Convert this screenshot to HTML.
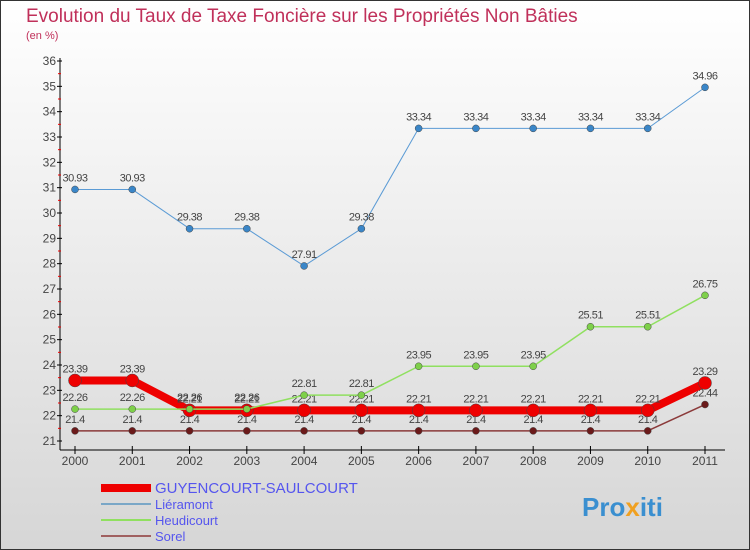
<!DOCTYPE html>
<html><head><meta charset="utf-8"><style>
body{margin:0;width:750px;height:550px;overflow:hidden}
svg{display:block;font-family:"Liberation Sans",sans-serif}
</style></head><body>
<svg id="c" width="750" height="550">
<defs><linearGradient id="bg" x1="0" y1="0" x2="0" y2="1"><stop offset="0" stop-color="#ffffff"/><stop offset="1" stop-color="#d6d6d6"/></linearGradient></defs>
<rect x="0.5" y="0.5" width="749" height="549" fill="url(#bg)" stroke="#333"/>
<text x="26" y="22" font-size="19" fill="#c0305a">Evolution du Taux de Taxe Foncière sur les Propriétés Non Bâties</text>
<text x="26" y="39" font-size="11" fill="#c0305a">(en %)</text>
<g id="axes"></g><g id="series"></g><g id="legend"></g>
<text x="582" y="516" font-size="26" font-weight="bold" fill="#3a8fd0">Pro<tspan fill="#f0a020">x</tspan>iti</text>
</svg>
<script>
const years=["2000","2001","2002","2003","2004","2005","2006","2007","2008","2009","2010","2011"];
const yTicks=[21,22,23,24,25,26,27,28,29,30,31,32,33,34,35,36];
const guyencourt=[23.39,23.39,22.21,22.21,22.21,22.21,22.21,22.21,22.21,22.21,22.21,23.29];
const lieramont=[30.93,30.93,29.38,29.38,27.91,29.38,33.34,33.34,33.34,33.34,33.34,34.96];
const heudicourt=[22.26,22.26,22.26,22.26,22.81,22.81,23.95,23.95,23.95,25.51,25.51,26.75];
const sorel=[21.4,21.4,21.4,21.4,21.4,21.4,21.4,21.4,21.4,21.4,21.4,22.44];
const NS="http://www.w3.org/2000/svg";
const X=i=>75+i*(630/11);
const Y=v=>441-(v-21)*(380/15);
function mk(p,t,a){const e=document.createElementNS(NS,t);for(const k in a)e.setAttribute(k,a[k]);p.appendChild(e);return e;}
const ax=document.getElementById('axes');
let yl=mk(ax,'line',{x1:60,y1:58,x2:60,y2:450,stroke:'#000'});


let xl=mk(ax,'line',{x1:60,y1:450,x2:725,y2:450,stroke:'#000'});


yTicks.forEach(v=>{
 mk(ax,'line',{x1:57,x2:62,y1:Y(v),y2:Y(v),stroke:'#000'});
 if(v<36)mk(ax,'line',{x1:58,x2:61,y1:Y(v+0.5),y2:Y(v+0.5),stroke:'#e00'});
 const t=mk(ax,'text',{x:56,y:Y(v)+4,'text-anchor':'end','font-size':12,fill:'#444'});
 t.textContent=v;
 
 
});
years.forEach((y,i)=>{
 mk(ax,'line',{x1:X(i),x2:X(i),y1:446,y2:454,stroke:'#000'});
 const t=mk(ax,'text',{x:X(i),y:465,'text-anchor':'middle','font-size':12,fill:'#444'});
 t.textContent=y;
 
 
});
const sg=document.getElementById('series');
function series(data,color,w,r,name,dot){
 const g=mk(sg,'g',{});
 
 
 mk(g,'polyline',{points:data.map((v,i)=>X(i)+','+Y(v)).join(' '),fill:'none',stroke:color,'stroke-width':w,'stroke-linejoin':'round'});
 data.forEach((v,i)=>{
  const c=mk(g,'circle',{cx:X(i),cy:Y(v),r:r,fill:dot,stroke:'#444','stroke-width':0.5});
  
  
  const t=mk(g,'text',{x:X(i),y:Y(v)-8,'text-anchor':'middle','font-size':11,fill:'#444','letter-spacing':'-0.5'});
  t.textContent=v;
  
  
 });
}
series(lieramont,'#5b9bd5',1,3.5,'lieramont-series','#3a86c8');
series(sorel,'#8b3a3a',1.5,3.5,'sorel-series','#6b1a1a');
series(guyencourt,'#ee0000',8,6.5,'guyencourt-series','#ee0000');
series(heudicourt,'#90e060',1.5,3.5,'heudicourt-series','#7ed04a');
const lg=document.getElementById('legend');
const items=[["GUYENCOURT-SAULCOURT","#ee0000",8,15],["Liéramont","#7aa7c7",2,13],["Heudicourt","#90e060",2,13],["Sorel","#a06060",2,13]];
const ly=[493,509,525,541];
items.forEach((it,i)=>{
 const g=mk(lg,'g',{});
 
 
 mk(g,'line',{x1:101,x2:151,y1:ly[i]-5,y2:ly[i]-5,stroke:it[1],'stroke-width':it[2]});
 const t=mk(g,'text',{x:155,y:ly[i],'font-size':it[3],fill:'#5555ee'});
 t.textContent=it[0];
});
</script>
</body></html>
